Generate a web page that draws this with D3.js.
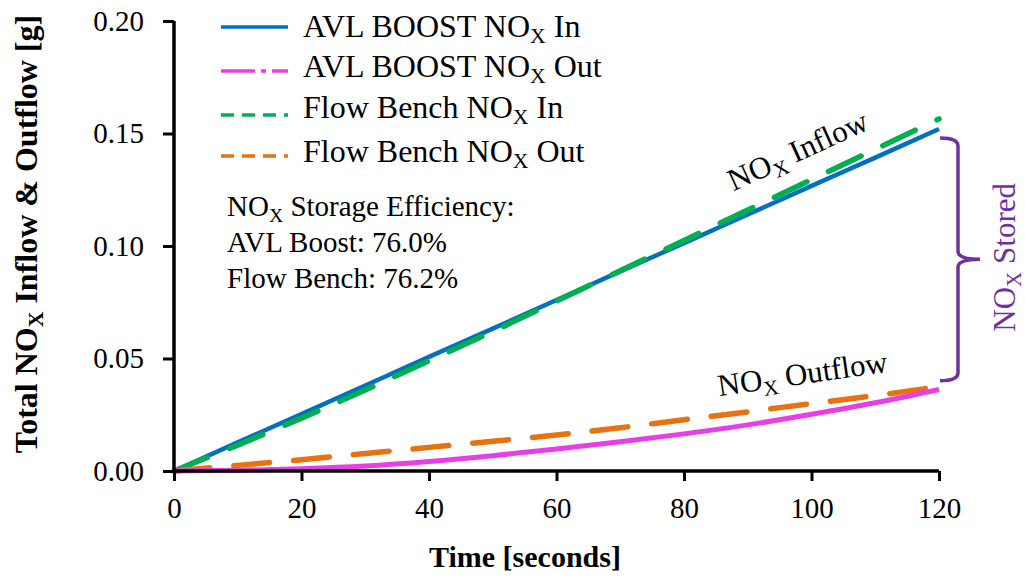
<!DOCTYPE html>
<html><head><meta charset="utf-8">
<script src="https://cdn.jsdelivr.net/npm/d3@7"></script>
<style>body{margin:0;background:#fff}svg{display:block}text{font-family:"Liberation Serif","Times New Roman",serif}</style>
</head><body><svg id="c" width="1026" height="578"></svg>
<script>
const time = [0,10,20,30,40,50,60,70,80,90,100,110,120];
const avlIn   = [0,0.0127,0.0253,0.0380,0.0507,0.0633,0.0760,0.0887,0.1013,0.1140,0.1267,0.1393,0.1520];
const avlOut  = [0,0.0003,0.0010,0.0022,0.0042,0.0068,0.0098,0.0130,0.0165,0.0205,0.0252,0.0303,0.0362];
const benchIn = [0,0.0115,0.0235,0.0360,0.0490,0.0620,0.0755,0.0890,0.1025,0.1160,0.1295,0.1430,0.1565];
const benchOut= [0,0.0025,0.0050,0.0078,0.0105,0.0132,0.0160,0.0192,0.0228,0.0263,0.0300,0.0335,0.0375];
const xTicks = [0,20,40,60,80,100,120];
const yTicks = [0,0.05,0.10,0.15,0.20];
const legendLabels = [["AVL BOOST NO","X"," In"],["AVL BOOST NO","X"," Out"],["Flow Bench NO","X"," In"],["Flow Bench NO","X"," Out"]];
const effLines = [["NO","X"," Storage Efficiency:"],["AVL Boost: 76.0%","",""],["Flow Bench: 76.2%","",""]];

const svg = d3.select("#c");
const L=174,R=939,T=21,B=471;
const x = d3.scaleLinear().domain([0,120]).range([L,R]);
const y = d3.scaleLinear().domain([0,0.20]).range([B,T]);
const FS=29;

function sub(t, parts, size){
  t.append("tspan").text(parts[0]);
  if(parts[1]){
    t.append("tspan").text(parts[1]).attr("font-size",size*0.68).attr("dy",size*0.2);
    t.append("tspan").text(parts[2]).attr("dy",-size*0.2);
  }
  return t;
}

// series
const series = [
  {v:avlIn, c:"#0070C0", w:4.5, dash:null},
  {v:benchIn, c:"#00B050", w:5.5, dash:"36,24"},
  {v:benchOut, c:"#E8720F", w:5.5, dash:"36,24"},
  {v:avlOut, c:"#E83DE8", w:5, dash:null}
];
const line = d3.line().x((d,i)=>x(time[i])).y(d=>y(d)).curve(d3.curveMonotoneX);
series.forEach(s=>{
  svg.append("path").datum(s.v).attr("d",line).attr("fill","none")
    .attr("stroke",s.c).attr("stroke-width",s.w)
    .attr("stroke-linecap",s.dash?"round":"butt")
    .attr("stroke-dasharray",s.dash);
});

// axes
const xa = svg.append("g").attr("transform",`translate(0,${B})`)
  .call(d3.axisBottom(x).tickValues(xTicks).tickSize(10).tickPadding(16).tickFormat(d3.format("d")));
const ya = svg.append("g").attr("transform",`translate(${L},0)`)
  .call(d3.axisLeft(y).tickValues(yTicks).tickSize(11).tickPadding(19).tickFormat(d3.format(".2f")));
[xa,ya].forEach(a=>{
  a.attr("font-family",null);
  a.select(".domain").attr("stroke","#000").attr("stroke-width",3.5);
  a.selectAll(".tick line").attr("stroke","#000").attr("stroke-width",3);
  a.selectAll(".tick text").attr("font-size",FS).attr("fill","#000").style("font-family","'Liberation Serif',serif");
});
xa.select(".domain").attr("d",`M${L},0H${R}`);
ya.select(".domain").attr("d",`M0,${B}V${T}`);

// axis titles
svg.append("text").attr("x",525).attr("y",567).attr("text-anchor","middle")
  .attr("font-size",30).attr("font-weight","bold").text("Time [seconds]");
const yt = svg.append("text").attr("transform",`translate(37,234) rotate(-90)`)
  .attr("text-anchor","middle").attr("font-size",32).attr("font-weight","bold");
sub(yt,["Total NO","X"," Inflow & Outflow [g]"],32);

// legend
const lg = svg.append("g");
const legStyles = [
  {c:"#0070C0",dash:null},
  {c:"#E83DE8",dash:"34,6,5,6"},
  {c:"#00B050",dash:"13,8"},
  {c:"#E8720F",dash:"13,8"}
];
const legLineY=[27,71,115,156];
const legTextY=[37,77,118,162];
legendLabels.forEach((lab,i)=>{
  lg.append("line").attr("x1",221).attr("x2",288).attr("y1",legLineY[i]).attr("y2",legLineY[i])
    .attr("stroke",legStyles[i].c).attr("stroke-width",3.5).attr("stroke-dasharray",legStyles[i].dash);
  const t = lg.append("text").attr("x",303).attr("y",legTextY[i]).attr("font-size",32);
  sub(t,lab,32);
});

// efficiency text
const effY=[216,252,288];
effLines.forEach((p,i)=>{
  const t = svg.append("text").attr("x",227).attr("y",effY[i]).attr("font-size",FS);
  sub(t,p,FS);
});

// inline labels
const inl = svg.append("text").attr("transform",`translate(802,160) rotate(-24.5)`)
  .attr("text-anchor","middle").attr("font-size",31);
sub(inl,["NO","X"," Inflow"],31);
const outl = svg.append("text").attr("transform",`translate(804,384) rotate(-8.3)`)
  .attr("text-anchor","middle").attr("font-size",31);
sub(outl,["NO","X"," Outflow"],31);

// bracket
const yTop = y(avlIn[avlIn.length-1])+9, yBot = y(benchOut[benchOut.length-1])-6;
const bx=958, mid=(yTop+yBot)/2;
const br = `M940,${yTop} Q958,${yTop} ${bx},${yTop+8} V${mid-8} Q${bx},${mid} 980,${mid} Q${bx},${mid} ${bx},${mid+8} V${yBot-8} Q${bx},${yBot} 940,${yBot}`;
svg.append("path").attr("d",br).attr("fill","none").attr("stroke","#7030A0").attr("stroke-width",3.5);
const st = svg.append("text").attr("transform",`translate(1015,${mid-2}) rotate(-90)`)
  .attr("text-anchor","middle").attr("font-size",31).attr("fill","#7030A0");
sub(st,["NO","X"," Stored"],31);
</script></body></html>
